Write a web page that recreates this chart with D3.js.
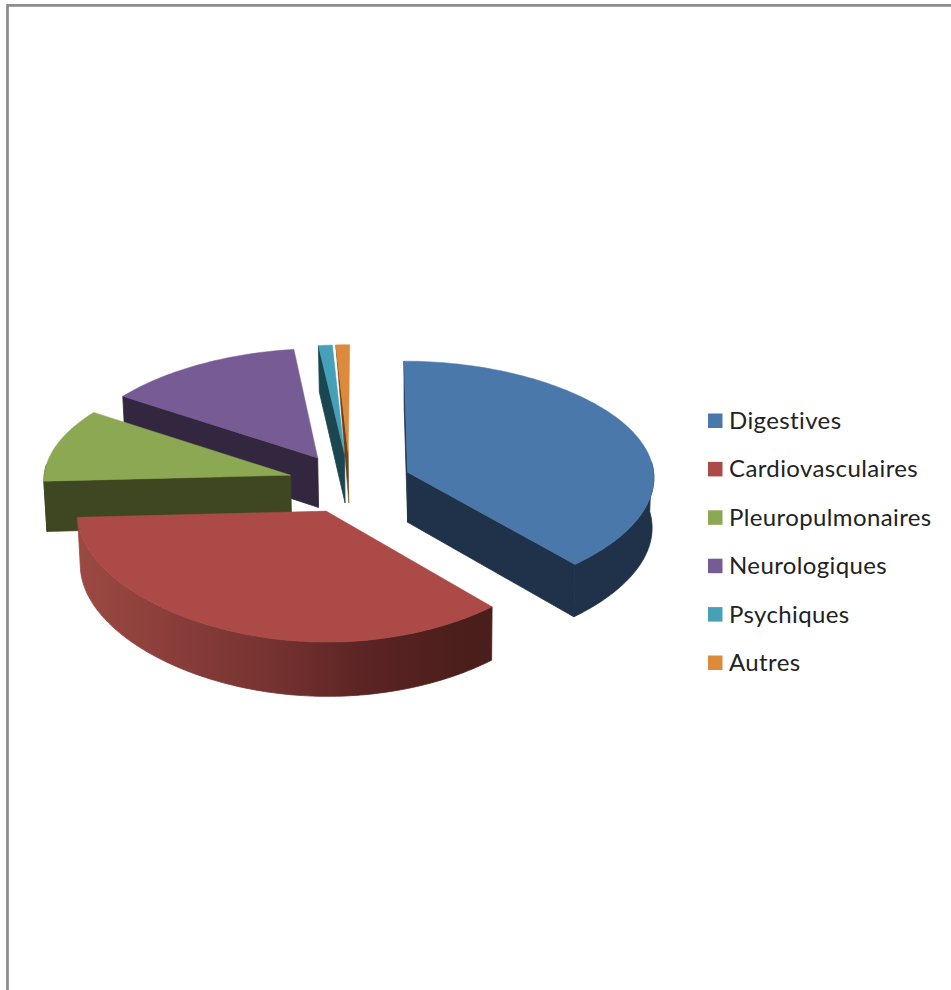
<!DOCTYPE html>
<html><head><meta charset="utf-8">
<script src="https://cdn.jsdelivr.net/npm/d3@7"></script>
<style>html,body{margin:0;padding:0;background:#fff;overflow:hidden}svg{display:block}</style>
</head><body><svg id="c" width="951" height="990"></svg>
<script>
const categories = ["Digestives","Cardiovasculaires","Pleuropulmonaires","Neurologiques","Psychiques","Autres"];
const seriesValues = [38.3,35.9,10.0,13.8,1.0,1.0];
const topColors = ["#4a78ab","#ab4a47","#8da852","#775b95","#45a0b8","#dd8a3d"];
const sideColors = ["#1f3249","#4a1e1a","#3e4722","#33263f","#1b454f","#6b4218"];
const drawOrder = ["Neurologiques","Psychiques","Autres","Pleuropulmonaires","Digestives","Cardiovasculaires"];
const wallStops = [[0,"#9b4a42"],[0.18,"#8c3f3b"],[0.42,"#763331"],[0.62,"#5c2424"],[0.85,"#4a1e1a"],[1,"#4a1e1a"]];

const svg = d3.select("#c");
const cx=350, cy=483, R=247, K=120, explode=0.25;
const vx=364, vxDepth=430, depthShrink=0.008;

const sx = d3.scaleLinear().domain([-1,1]).range([-R,R]);
const sy = d3.scaleLinear().domain([-1,1]).range([-K,K]);
const sd = d3.scaleLinear().domain([-1.3,1.3]).range([46,54.5]);
// gentle perspective on the ground plane
function project(X,Y,z){
  const sk = 1 + 0.0365*Y - 0.037*Y*Y;
  let x = vx + (cx-vx + sx(X))*sk;
  const y = cy + sy(Y)*(1+0.0625*Y) + sd(Y)*z;
  x = x + (vxDepth-x)*depthShrink*z;
  return [x,y];
}
const pie = d3.pie().sort(null).startAngle(0).endAngle(2*Math.PI);
const arcs = pie(seriesValues).map((d,i)=>{
  const mid=(d.startAngle+d.endAngle)/2;
  return {name:categories[i],i,a0:d.startAngle,a1:d.endAngle,
    ox:explode*Math.sin(mid),oy:-explode*Math.cos(mid)};
});
const line = d3.line().curve(d3.curveLinear);
const defs = svg.append("defs");
const gx = d3.scaleLinear().domain([0,1]).range([cx-R-25,cx+R-60]);
const grad = defs.append("linearGradient").attr("id","wall").attr("gradientUnits","userSpaceOnUse")
  .attr("x1",gx(0)).attr("x2",gx(1)).attr("y1",0).attr("y2",0);
wallStops.forEach(s=>grad.append("stop").attr("offset",s[0]).attr("stop-color",s[1]));

// frame
svg.append("path").attr("d",line([[7.5,990],[7.5,5.3],[951,5.3]])).attr("fill","none").attr("stroke","#8c8c8c").attr("stroke-width",2.7);

const g = svg.append("g");
drawOrder.forEach(name=>{
  const a = arcs.find(d=>d.name===name);
  const n = Math.max(4,Math.round((a.a1-a.a0)/0.02));
  const angs = d3.range(n+1).map(k=>a.a0+(a.a1-a.a0)*k/n);
  const pt = (t,z)=>project(a.ox+Math.sin(t),a.oy-Math.cos(t),z);
  const apex = z=>project(a.ox,a.oy,z);
  const side = sideColors[a.i], top = topColors[a.i];
  const face=(pts,fill,sw)=>g.append("path").attr("d",line(pts)+"Z").attr("fill",fill).attr("stroke",fill).attr("stroke-width",sw).attr("stroke-linejoin","round");
  // radial faces: only those turned toward the viewer
  if(name==="Autres"){
    face([pt(a.a0,0),apex(0),apex(1)],side,0.5);
  } else {
    if(Math.sin(a.a0)<=1e-9) face([pt(a.a0,0),apex(0),apex(1),pt(a.a0,1)],side,0.8);
    if(Math.sin(a.a1)>1e-9) face([pt(a.a1,0),apex(0),apex(1),pt(a.a1,1)],side,0.8);
  }
  // outer wall: only the near part of the rim
  const front = angs.filter(t=>-Math.cos(t)>-0.1);
  if(front.length>1 && name!=="Autres"){
    face(front.map(t=>pt(t,0)).concat(front.slice().reverse().map(t=>pt(t,1))),
      name==="Cardiovasculaires"?"url(#wall)":side,0.8);
  }
  face([apex(0)].concat(angs.map(t=>pt(t,0))),top,0.5);
});

// legend
const legendY = d3.scalePoint().domain(categories).range([421,663]);
const lg = svg.append("g");
categories.forEach((c,i)=>{
  lg.append("rect").attr("x",708).attr("y",legendY(c)-7.5).attr("width",14.5).attr("height",14.5).attr("fill",topColors[i]);
  lg.append("text").attr("x",729).attr("y",legendY(c)+8).attr("font-family","Lato, sans-serif").attr("font-size",24)
    .attr("letter-spacing",0.38).style("font-variant-ligatures","none").attr("fill","#222").text(c);
});
</script></body></html>
